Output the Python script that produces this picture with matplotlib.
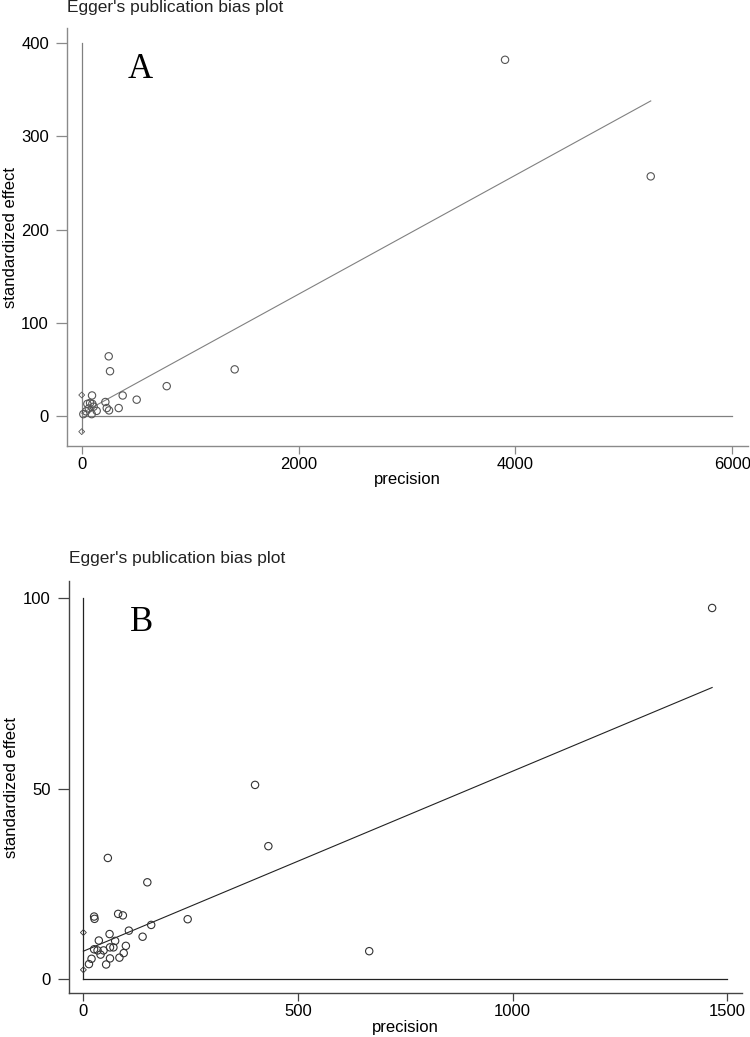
import numpy as np
import matplotlib
matplotlib.use("Agg")
import matplotlib.pyplot as plt

plt.rcParams['font.family'] = ['Liberation Sans', 'DejaVu Sans']

# panel A: precision vs standardized effect
a_prec = [3905, 5249, 1411, 784, 249, 261, 507, 378, 95, 218, 231, 252,
          341, 138, 92, 52, 77, 98, 40, 15, 65, 110]
a_eff = [382, 257, 50, 32, 64, 48, 17.5, 22, 22, 15, 8.5, 6,
         8.5, 5.5, 2, 13, 14, 13, 5, 2, 8, 10]
a_icpt, a_slope = 3.0, 0.0638
a_ci = [-16.8, 22.5]
a_xticks = [0, 2000, 4000, 6000]
a_yticks = [0, 100, 200, 300, 400]

# panel B
b_prec = [1465, 400, 431, 57, 149, 25, 26, 81, 92, 243, 158, 106, 61, 138,
          36, 74, 99, 62, 70, 25, 33, 47, 40, 94, 84, 62, 19, 53, 13, 666]
b_eff = [97.5, 51, 34.9, 31.8, 25.4, 16.4, 15.8, 17.1, 16.7, 15.7, 14.2,
         12.7, 11.8, 11.1, 10.1, 10.0, 8.7, 8.3, 8.3, 7.8, 7.5, 7.5, 6.4,
         6.8, 5.6, 5.4, 5.3, 3.8, 3.9, 7.3]
b_icpt, b_slope = 7.3, 0.0473
b_ci = [2.4, 12.2]
b_xticks = [0, 500, 1000, 1500]
b_yticks = [0, 50, 100]


def egger_panel(ax, prec, eff, icpt, slope, ci, xticks, yticks, xlim, ylim,
                letter, col, spcol, mcol):
    prec = np.array(prec)
    # reference lines through the origin
    ax.plot([0, xticks[-1]], [0, 0], color=col, lw=0.9, zorder=1)
    ax.plot([0, 0], [min(0, ci[0]), yticks[-1]], color=col, lw=0.9, zorder=1)
    # fitted line
    xs = np.array([0, prec.max()])
    ax.plot(xs, icpt + slope * xs, color=col, lw=0.8, zorder=2)
    # intercept CI
    ax.scatter([0, 0], ci, marker='D', s=9, facecolors='none',
               edgecolors=mcol, linewidths=0.6, zorder=3)
    ax.scatter(prec, eff, s=28, facecolors='none', edgecolors=mcol,
               linewidths=0.8, zorder=3)
    ax.set_xlim(*xlim)
    ax.set_ylim(*ylim)
    ax.set_xticks(xticks)
    ax.set_yticks(yticks)
    for s in ['top', 'right']:
        ax.spines[s].set_visible(False)
    for s in ['left', 'bottom']:
        ax.spines[s].set_color(spcol)
        ax.spines[s].set_linewidth(1.0)
    ax.tick_params(axis='y', length=8, width=0.9, pad=5, labelsize=12,
                   color=spcol)
    ax.tick_params(axis='x', length=6, width=0.9, pad=2, labelsize=12,
                   color=spcol)
    ax.set_xlabel('precision', fontsize=12)
    ax.set_ylabel('standardized effect', fontsize=12)
    ax.text(0.108, 0.90, letter, transform=ax.transAxes, fontsize=25,
            family='Liberation Serif', ha='center', va='center')


fig = plt.figure(figsize=(7.5, 10.37), dpi=100)
ax1 = fig.add_axes([0.0893, 0.5699, 0.908, 0.403])
ax2 = fig.add_axes([0.092, 0.0424, 0.897, 0.397])

egger_panel(ax1, a_prec, a_eff, a_icpt, a_slope, a_ci, a_xticks, a_yticks,
            (-136, 6146), (-32.2, 416), 'A', '#808080', '#8a8a8a', '#555555')
egger_panel(ax2, b_prec, b_eff, b_icpt, b_slope, b_ci, b_xticks, b_yticks,
            (-33.5, 1534), (-3.7, 104.5), 'B', '#222222', '#444444', '#333333')

ax1.text(0.0, 1.05, "Egger's publication bias plot", transform=ax1.transAxes,
         fontsize=12.5, ha='left', va='center', color='#222222')
ax2.text(0.0, 1.055, "Egger's publication bias plot", transform=ax2.transAxes,
         fontsize=12.5, ha='left', va='center', color='#222222')

ax1.xaxis.set_label_coords(0.5, -0.062)
ax1.yaxis.set_label_coords(-0.072, 0.5)
ax2.xaxis.set_label_coords(0.5, -0.066)
ax2.yaxis.set_label_coords(-0.075, 0.5)

fig.savefig('out.png', dpi=100)
